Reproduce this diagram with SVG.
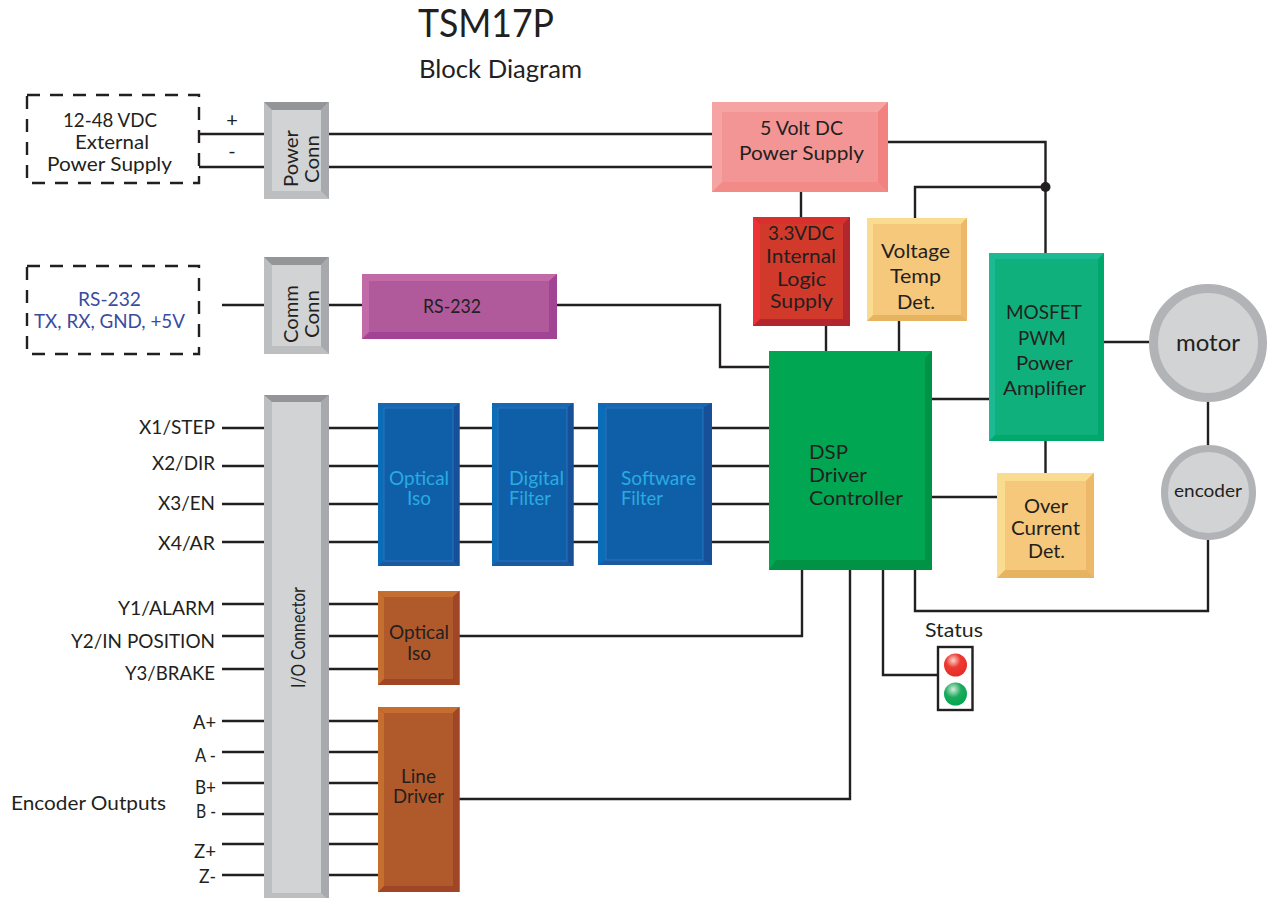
<svg xmlns="http://www.w3.org/2000/svg" width="1268" height="898" viewBox="0 0 1268 898">
<style>
text{font-family:"Lato","Noto Sans","Liberation Sans",sans-serif;font-size:20px;fill:#231f20;text-anchor:middle;lengthAdjust:spacingAndGlyphs}
.r{text-anchor:end}.l{text-anchor:start}
.w{stroke:#231f20;stroke-width:2.4;fill:none}
.dash{fill:#fff;stroke:#231f20;stroke-width:2.4;stroke-dasharray:13 10}
.lb{fill:#29abe2}
.nv{fill:#3b4ba0}
.gy .b{fill:#bcbec0}.gy .tp{fill:#939598}.gy .rt{fill:#a7a9ac}.gy .f{fill:#d1d3d4}
.bl .b{fill:#1a58a2}.bl .tp{fill:#1767b3}.bl .lf{fill:#0b6cb8}.bl .rt{fill:#174f98}.bl .f{fill:#0f5fa8;stroke:#2a75bb;stroke-width:1}
.br .b{fill:#a14527}.br .tp{fill:#c66d30}.br .lf{fill:#c66d30}.br .rt{fill:#a14527}.br .f{fill:#b05a2c}
.am .b{fill:#e6b461}.am .tp{fill:#f9dc8f}.am .lf{fill:#f9dc8f}.am .rt{fill:#edb869}.am .f{fill:#f6c87b}
</style>
<defs>
<radialGradient id="red" cx="0.4" cy="0.3" r="0.7"><stop offset="0" stop-color="#fbd5cc"/><stop offset="0.45" stop-color="#ee3a33"/><stop offset="1" stop-color="#e52d27"/></radialGradient>
<radialGradient id="grn" cx="0.4" cy="0.3" r="0.7"><stop offset="0" stop-color="#d5ecdc"/><stop offset="0.5" stop-color="#1cab5c"/><stop offset="1" stop-color="#00a651"/></radialGradient>
</defs>

<text x="486" y="37" style="font-size:38px" textLength="136" lengthAdjust="spacingAndGlyphs">TSM17P</text>
<text x="500.500" y="78" style="font-size:25.500px" textLength="163" lengthAdjust="spacingAndGlyphs">Block Diagram</text>

<g id="connectors">
<path class="w" d="M199 134H712M199 167H712"/>
<path class="w" d="M222 305H362M557 305H720V367H769"/>
<path class="w" d="M888 142H1045.500V253M915 218V187H1045.500"/>
<path class="w" d="M801 192V217M826 326V351M899 321V351"/>
<path class="w" d="M1104 342H1149M1208 402V445M1208 540V611H915V570"/>
<path class="w" d="M932 399H989M932 497H997M1045.500 441V473"/>
<path class="w" d="M222 428H769M222 466H769M222 504H769M222 542H769"/>
<path class="w" d="M222 604H378M222 636H802V570M222 669H378"/>
<path class="w" d="M222 721H378M222 752H378M222 783H378M222 814H378M222 844H378M222 875H378"/>
<path class="w" d="M459 799H850V570M883 570V675H938"/>
<circle cx="1045.500" cy="187" r="5" fill="#231f20"/>
</g>

<g id="supply"><rect class="dash" x="27" y="95" width="172" height="88"/>
<text x="110" y="127" textLength="94" lengthAdjust="spacingAndGlyphs">12-48 VDC</text><text x="112" y="149" textLength="74" lengthAdjust="spacingAndGlyphs">External</text><text x="109.500" y="171" textLength="125" lengthAdjust="spacingAndGlyphs">Power Supply</text></g>
<text x="232" y="127">+</text><text x="232" y="158">-</text>

<g id="rs232ext"><rect class="dash" x="27" y="266" width="172" height="88"/>
<text class="nv" x="109.500" y="306" textLength="63" lengthAdjust="spacingAndGlyphs">RS-232</text><text class="nv" x="109.500" y="328" textLength="151" lengthAdjust="spacingAndGlyphs">TX, RX, GND, +5V</text></g>

<g id="power-conn" class="gy">
<rect class="b" x="264" y="102" width="65" height="97"/>
<polygon class="tp" points="264,102 329,102 321,110 272,110"/>
<polygon class="rt" points="329,102 329,199 321,191 321,110"/>
<rect class="f" x="272" y="110" width="49" height="81"/>
<text transform="translate(298 158.500) rotate(-90)" textLength="57" lengthAdjust="spacingAndGlyphs">Power</text><text transform="translate(319 159) rotate(-90)" textLength="48" lengthAdjust="spacingAndGlyphs">Conn</text></g>

<g id="comm-conn" class="gy">
<rect class="b" x="264" y="257" width="65" height="97"/>
<polygon class="tp" points="264,257 329,257 321,265 272,265"/>
<polygon class="rt" points="329,257 329,354 321,346 321,265"/>
<rect class="f" x="272" y="265" width="49" height="81"/>
<text transform="translate(298 314) rotate(-90)" textLength="58" lengthAdjust="spacingAndGlyphs">Comm</text><text transform="translate(319 314) rotate(-90)" textLength="48" lengthAdjust="spacingAndGlyphs">Conn</text></g>

<g id="io-conn" class="gy">
<rect class="b" x="264" y="395" width="65" height="506"/>
<polygon class="tp" points="264,395 329,395 321,402 272,402"/>
<polygon class="rt" points="329,395 329,901 321,893 321,402"/>
<rect class="f" x="272" y="402" width="49" height="491"/>
<text transform="translate(305 637.500) rotate(-90)" style="font-size:19px" textLength="101" lengthAdjust="spacingAndGlyphs">I/O Connector</text></g>

<g id="rs232"><rect x="362" y="274" width="195" height="65" fill="#a34393"/>
<polygon points="362,274 557,274 549,281 369,281 369,332 362,339" fill="#c26aa8"/>
<rect x="369" y="281" width="180" height="51" fill="#b05a9c"/>
<text x="452" y="313" textLength="58" lengthAdjust="spacingAndGlyphs">RS-232</text></g>

<g id="opt1" class="bl"><rect class="b" x="378" y="403" width="81.500" height="163"/>
<polygon class="tp" points="378,403 459.500,403 453,408 384,408"/><polygon class="lf" points="378,403 384,408 384,561 378,566"/><polygon class="rt" points="459.500,403 459.500,566 453,561 453,408"/>
<rect class="f" x="384" y="408" width="69" height="153"/>
<text class="lb" x="419" y="485" textLength="60" lengthAdjust="spacingAndGlyphs">Optical</text><text class="lb" x="419" y="505" textLength="24" lengthAdjust="spacingAndGlyphs">Iso</text></g>

<g id="digital" class="bl"><rect class="b" x="492" y="403" width="81.500" height="163"/>
<polygon class="tp" points="492,403 573.500,403 567,408 498,408"/><polygon class="lf" points="492,403 498,408 498,561 492,566"/><polygon class="rt" points="573.500,403 573.500,566 567,561 567,408"/>
<rect class="f" x="498" y="408" width="69" height="153"/>
<text class="lb l" x="509" y="485" textLength="55" lengthAdjust="spacingAndGlyphs">Digital</text><text class="lb l" x="509" y="505" textLength="42" lengthAdjust="spacingAndGlyphs">Filter</text></g>

<g id="software" class="bl"><rect class="b" x="598" y="403" width="114" height="162"/>
<polygon class="tp" points="598,403 712,403 703,408 606,408"/><polygon class="lf" points="598,403 606,408 606,560 598,565"/><polygon class="rt" points="712,403 712,565 703,560 703,408"/>
<rect class="f" x="606" y="408" width="97" height="152"/>
<text class="lb l" x="621" y="485" textLength="75" lengthAdjust="spacingAndGlyphs">Software</text><text class="lb l" x="621" y="505" textLength="42" lengthAdjust="spacingAndGlyphs">Filter</text></g>

<g id="opt2" class="br"><rect class="b" x="378" y="591" width="81.500" height="94"/>
<polygon class="tp" points="378,591 459.500,591 453,597 384,597"/><polygon class="lf" points="378,591 384,597 384,679 378,685"/><polygon class="rt" points="459.500,591 459.500,685 453,679 453,597"/>
<rect class="f" x="384" y="597" width="69" height="82"/>
<text x="419" y="639" textLength="60" lengthAdjust="spacingAndGlyphs">Optical</text><text x="419" y="660" textLength="24" lengthAdjust="spacingAndGlyphs">Iso</text></g>

<g id="line-driver" class="br"><rect class="b" x="378" y="707" width="81.500" height="185"/>
<polygon class="tp" points="378,707 459.500,707 453,713 384,713"/><polygon class="lf" points="378,707 384,713 384,886 378,892"/><polygon class="rt" points="459.500,707 459.500,892 453,886 453,713"/>
<rect class="f" x="384" y="713" width="69" height="173"/>
<text x="418.500" y="783" textLength="35" lengthAdjust="spacingAndGlyphs">Line</text><text x="418.500" y="803" textLength="51" lengthAdjust="spacingAndGlyphs">Driver</text></g>

<g id="five-volt"><rect x="712" y="102" width="176" height="90" fill="#f28b88"/>
<polygon points="712,102 888,102 878,112 722,112 722,182 712,192" fill="#f5a3a3"/>
<polygon points="888,102 888,192 878,182 878,112" fill="#f28280"/>
<rect x="722" y="112" width="156" height="70" fill="#f39594"/>
<text x="801.500" y="135" textLength="83" lengthAdjust="spacingAndGlyphs">5 Volt DC</text><text x="801.500" y="160" textLength="125" lengthAdjust="spacingAndGlyphs">Power Supply</text></g>

<g id="logic"><rect x="753" y="217" width="97" height="109" fill="#b1272d"/>
<polygon points="753,217 850,217 843,224 760,224" fill="#d9302e"/><polygon points="753,217 760,224 760,319 753,326" fill="#ed3237"/>
<rect x="760" y="224" width="83" height="95" fill="#d13a2a"/>
<text x="801" y="240" textLength="66" lengthAdjust="spacingAndGlyphs">3.3VDC</text><text x="801" y="263" textLength="70" lengthAdjust="spacingAndGlyphs">Internal</text><text x="801.500" y="286" textLength="49" lengthAdjust="spacingAndGlyphs">Logic</text><text x="801.500" y="308" textLength="63" lengthAdjust="spacingAndGlyphs">Supply</text></g>

<g id="voltage" class="am"><rect class="b" x="867" y="218" width="100" height="103"/>
<polygon class="tp" points="867,218 967,218 961,224 873,224 873,315 867,321"/><polygon class="rt" points="967,218 967,321 961,315 961,224"/>
<rect class="f" x="873" y="224" width="88" height="91"/>
<text x="915.500" y="258" textLength="69" lengthAdjust="spacingAndGlyphs">Voltage</text><text x="915.500" y="283" textLength="51" lengthAdjust="spacingAndGlyphs">Temp</text><text x="916" y="309" textLength="38" lengthAdjust="spacingAndGlyphs">Det.</text></g>

<g id="mosfet"><rect x="989" y="253" width="115" height="188" fill="#00a86b"/>
<polygon points="989,253 1104,253 1098,259 995,259 995,435 989,441" fill="#1cb992"/>
<rect x="995" y="259" width="103" height="176" fill="#10b07c"/>
<text x="1044" y="319" textLength="76" lengthAdjust="spacingAndGlyphs">MOSFET</text><text x="1042" y="345" textLength="48" lengthAdjust="spacingAndGlyphs">PWM</text><text x="1044.500" y="370" textLength="57" lengthAdjust="spacingAndGlyphs">Power</text><text x="1044.500" y="395" textLength="83" lengthAdjust="spacingAndGlyphs">Amplifier</text></g>

<g id="dsp"><rect x="769" y="351" width="163" height="219" fill="#009245"/>
<polygon points="769,351 932,351 925,358 776,358 776,560 769,570" fill="#00a651"/>
<rect x="776" y="358" width="149" height="202" fill="#00a651"/>
<text class="l" x="809" y="459" textLength="39" lengthAdjust="spacingAndGlyphs">DSP</text><text class="l" x="809" y="482" textLength="58" lengthAdjust="spacingAndGlyphs">Driver</text><text class="l" x="809" y="505" textLength="94" lengthAdjust="spacingAndGlyphs">Controller</text></g>

<g id="overcurrent" class="am"><rect class="b" x="997" y="473" width="97" height="105"/>
<polygon class="tp" points="997,473 1094,473 1086,481 1005,481 1005,570 997,578"/><polygon class="rt" points="1094,473 1094,578 1086,570 1086,481"/>
<rect class="f" x="1005" y="481" width="81" height="89"/>
<text x="1046" y="513" textLength="44" lengthAdjust="spacingAndGlyphs">Over</text><text x="1045.500" y="535" textLength="69" lengthAdjust="spacingAndGlyphs">Current</text><text x="1046.500" y="558" textLength="37" lengthAdjust="spacingAndGlyphs">Det.</text></g>

<g id="motor"><circle cx="1208" cy="343" r="54.500" fill="#d1d3d4" stroke="#b1b3b6" stroke-width="9"/>
<text x="1208" y="351" style="font-size:24px">motor</text></g>

<g id="encoder"><circle cx="1208.500" cy="492.500" r="44" fill="#d1d3d4" stroke="#b1b3b6" stroke-width="7"/>
<text x="1208" y="497" style="font-size:18px" textLength="68" lengthAdjust="spacingAndGlyphs">encoder</text></g>

<g id="status"><text x="954" y="637" textLength="58" lengthAdjust="spacingAndGlyphs">Status</text>
<rect x="938" y="647" width="34.500" height="63" fill="#fff" stroke="#231f20" stroke-width="2.4"/>
<circle cx="955.500" cy="665" r="11.500" fill="url(#red)"/><circle cx="955.500" cy="694" r="11.500" fill="url(#grn)"/></g>

<g id="labels">
<text class="r" x="215" y="434" textLength="76" lengthAdjust="spacingAndGlyphs">X1/STEP</text><text class="r" x="215" y="470" textLength="63" lengthAdjust="spacingAndGlyphs">X2/DIR</text><text class="r" x="215" y="510" textLength="57" lengthAdjust="spacingAndGlyphs">X3/EN</text><text class="r" x="215" y="550" textLength="57" lengthAdjust="spacingAndGlyphs">X4/AR</text>
<text class="r" x="215" y="615" textLength="97" lengthAdjust="spacingAndGlyphs">Y1/ALARM</text><text class="r" x="215" y="648" textLength="144" lengthAdjust="spacingAndGlyphs">Y2/IN POSITION</text><text class="r" x="215" y="680" textLength="90" lengthAdjust="spacingAndGlyphs">Y3/BRAKE</text>
<text class="r" x="216" y="729" textLength="23" lengthAdjust="spacingAndGlyphs">A+</text><text class="r" x="216" y="762" textLength="21" lengthAdjust="spacingAndGlyphs">A -</text><text class="r" x="216" y="794" textLength="21" lengthAdjust="spacingAndGlyphs">B+</text><text class="r" x="216" y="818" textLength="20" lengthAdjust="spacingAndGlyphs">B -</text><text class="r" x="216" y="858" textLength="22" lengthAdjust="spacingAndGlyphs">Z+</text><text class="r" x="216" y="883" textLength="17" lengthAdjust="spacingAndGlyphs">Z-</text>
<text class="l" x="11" y="810" textLength="155" lengthAdjust="spacingAndGlyphs">Encoder Outputs</text>
</g>
</svg>
